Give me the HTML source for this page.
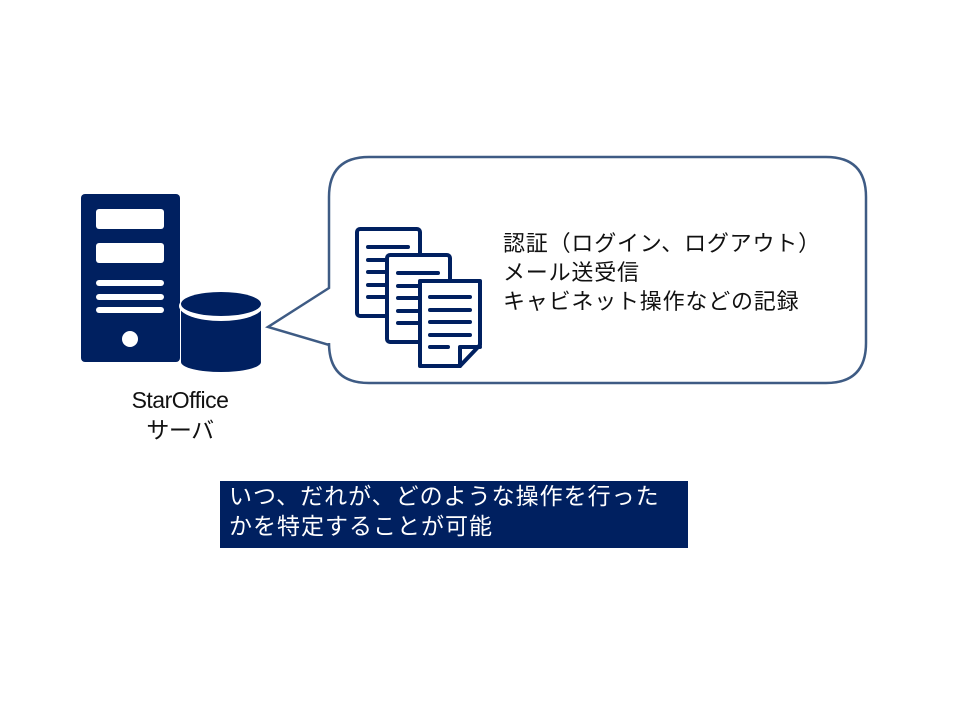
<!DOCTYPE html>
<html><head><meta charset="utf-8"><style>
html,body{margin:0;padding:0;background:#fff;}
body{width:960px;height:720px;overflow:hidden;position:relative;font-family:"Liberation Sans","Noto Sans CJK JP",sans-serif;}
.t{position:absolute;white-space:nowrap;color:#111;}
</style></head><body>
<svg width="960" height="720" style="position:absolute;left:0;top:0">
<rect x="81" y="194" width="99" height="168" rx="4" fill="#002060"/>
<rect x="96" y="209" width="68" height="20" rx="3" fill="#fff"/>
<rect x="96" y="243" width="68" height="20" rx="3" fill="#fff"/>
<rect x="96" y="280" width="68" height="6" rx="3" fill="#fff"/>
<rect x="96" y="294" width="68" height="6" rx="3" fill="#fff"/>
<rect x="96" y="307" width="68" height="6" rx="3" fill="#fff"/>
<circle cx="130" cy="339" r="8" fill="#fff"/>
<path d="M181 306 L181 362 A40 10 0 0 0 261 362 L261 306 Z" fill="#002060"/>
<ellipse cx="221" cy="306" rx="42" ry="15" fill="#fff"/>
<ellipse cx="221" cy="304" rx="40" ry="12" fill="#002060"/>
<path d="M369 157 L826 157 Q866 157 866 197 L866 343 Q866 383 826 383 L369 383 Q329 383 329 343 L329 345 L268 327 L329 288 L329 197 Q329 157 369 157 Z" fill="#fff" stroke="#3e5b84" stroke-width="2.5"/>
<g stroke="#002060" stroke-width="4" stroke-linecap="round" stroke-linejoin="round">
<rect x="357" y="229" width="63" height="87" rx="3" fill="#fff"/>
<line x1="368" y1="247" x2="408" y2="247"/><line x1="368" y1="260" x2="390" y2="260"/><line x1="368" y1="272" x2="390" y2="272"/><line x1="368" y1="285" x2="390" y2="285"/><line x1="368" y1="297" x2="390" y2="297"/>
<rect x="387" y="255" width="63" height="87" rx="3" fill="#fff"/>
<line x1="398" y1="273" x2="438" y2="273"/><line x1="398" y1="286" x2="420" y2="286"/><line x1="398" y1="298" x2="420" y2="298"/><line x1="398" y1="311" x2="420" y2="311"/><line x1="398" y1="323" x2="420" y2="323"/>
<path d="M420 281 L480 281 L480 345 L460 366 L420 366 Z" fill="#fff"/>
<path d="M460 366 L460 347 L480 347" fill="none"/>
<line x1="430" y1="297" x2="470" y2="297"/><line x1="430" y1="310" x2="470" y2="310"/><line x1="430" y1="322" x2="470" y2="322"/><line x1="430" y1="335" x2="470" y2="335"/><line x1="430" y1="347" x2="448" y2="347"/>
</g>
<rect x="220" y="481" width="468" height="67" fill="#002060"/>
</svg>
<div class="t" style="left:503px;top:229px;font-size:22px;line-height:29px;letter-spacing:0.8px;">認証（ログイン、ログアウト）<br>メール送受信<br>キャビネット操作などの記録</div>
<div class="t" style="left:115px;top:385px;font-size:23px;line-height:30px;text-align:center;width:130px;letter-spacing:-0.5px;">StarOffice<br>サーバ</div>
<div class="t" style="left:229px;top:481px;font-size:23px;line-height:30px;letter-spacing:1px;color:#fff;">いつ、だれが、どのような操作を行った<br>かを特定することが可能</div>
</body></html>
